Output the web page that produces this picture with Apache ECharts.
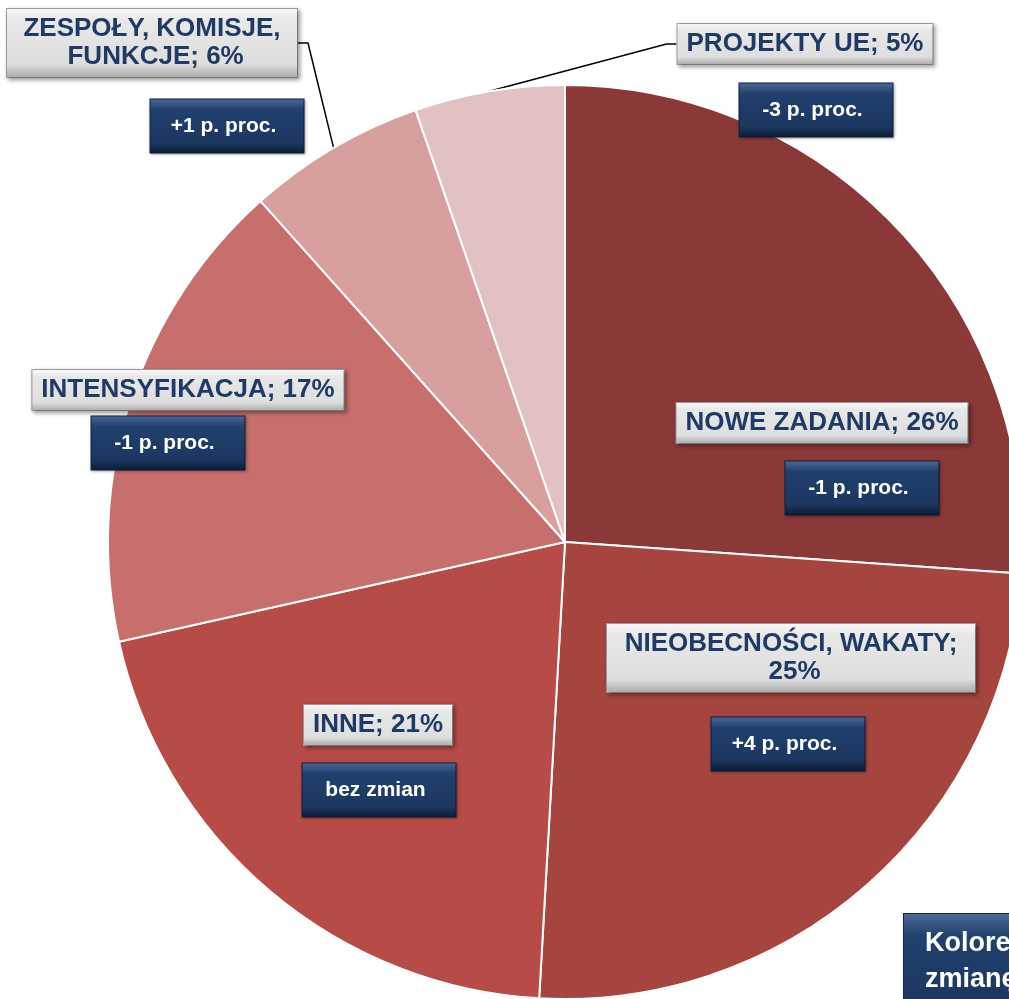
<!DOCTYPE html>
<html>
<head>
<meta charset="utf-8">
<script src="https://cdn.jsdelivr.net/npm/echarts@6/dist/echarts.min.js"></script>
<style>
  html, body { margin: 0; padding: 0; background: #fff; }
  #main { width: 1009px; height: 999px; }
</style>
</head>
<body>
<div id="main"></div>
<script>
// shares, labels show them rounded
const categories = ['NOWE ZADANIA', 'NIEOBECNOŚCI, WAKATY', 'INNE', 'INTENSYFIKACJA', 'ZESPOŁY, KOMISJE, FUNKCJE', 'PROJEKTY UE'];
const shares = [26.1, 24.8, 20.6, 16.9, 6.3, 5.3];
// change vs previous survey, in percentage points
const changes = [-1, 4, 0, -1, 1, -3];

// box centres (px) and other layout bits
const labelPos = [[822, 423], [791, 658], [378, 725], [188, 390], [152, 43], [805, 44]];
const changePos = [[862, 488], [788, 744], [379, 790], [168, 443], [227, 126], [816, 110]];
const wrapWidth = [null, 350, null, null, 272, null];
const leader = [false, false, false, false, true, true];
const sliceColors = ['#8b3838', '#a64440', '#b74b47', '#c76f6d', '#d7a09f', '#e2c1c3'];

const FONT = '"Liberation Sans", Arial, sans-serif';
const NAVY_TEXT = '#1f3a64';

function greyBox() {
  return new echarts.graphic.LinearGradient(0, 0, 0, 1, [
    { offset: 0, color: '#fafafa' },
    { offset: 0.18, color: '#e8e8e8' },
    { offset: 0.8, color: '#dedede' },
    { offset: 1, color: '#a9a9a9' }
  ]);
}
function navyBox() {
  return new echarts.graphic.LinearGradient(0, 0, 0, 1, [
    { offset: 0, color: '#4d6a98' },
    { offset: 0.2, color: '#20406e' },
    { offset: 0.8, color: '#1c3760' },
    { offset: 1, color: '#0b1a34' }
  ]);
}

function changeText(v) {
  if (v === 0) return 'bez zmian';
  return (v > 0 ? '+' : '-') + Math.abs(v) + ' p. proc.';
}

const chart = echarts.init(document.getElementById('main'));

const option = {
  animation: false,
  backgroundColor: '#fff',
  series: [
    {
      type: 'pie',
      center: [565, 542],
      radius: 457,
      startAngle: 90,
      clockwise: true,
      avoidLabelOverlap: false,
      emphasis: { disabled: true },
      itemStyle: { borderColor: '#fff', borderWidth: 2 },
      label: {
        position: 'outside',
        formatter: p => p.name + '; ' + Math.round(p.value) + '%',
        color: NAVY_TEXT,
        fontFamily: FONT,
        fontWeight: 'bold',
        fontSize: 26,
        lineHeight: 28,
        align: 'center',
        backgroundColor: greyBox(),
        borderColor: '#a0a0a0',
        borderWidth: 1,
        padding: [6, 9],
        shadowColor: 'rgba(0,0,0,0.35)',
        shadowBlur: 4,
        shadowOffsetX: 2,
        shadowOffsetY: 2
      },
      labelLine: {
        show: true,
        length: 10,
        length2: 10,
        lineStyle: { color: '#000', width: 1.5 }
      },
      labelLayout: function (p) {
        const c = labelPos[p.dataIndex];
        const out = { x: c[0], y: c[1], align: 'center', verticalAlign: 'middle' };
        if (leader[p.dataIndex] && p.labelLinePoints) {
          const a = p.labelLinePoints[0];
          const half = p.labelRect.width / 2;
          const side = a[0] > c[0] ? 1 : -1;
          const end = [c[0] + side * half, c[1]];
          out.labelLinePoints = [a, [end[0] + side * 10, c[1]], end];
        }
        return out;
      },
      data: categories.map((name, i) => {
        const item = {
          name: name,
          value: shares[i],
          itemStyle: { color: sliceColors[i] },
          labelLine: { show: leader[i] }
        };
        if (wrapWidth[i]) {
          item.label = { width: wrapWidth[i], overflow: 'break' };
        }
        return item;
      })
    },
    {
      type: 'pie',
      center: [565, 542],
      radius: 457,
      startAngle: 90,
      clockwise: true,
      silent: true,
      avoidLabelOverlap: false,
      emphasis: { disabled: true },
      itemStyle: { color: 'rgba(0,0,0,0)', borderWidth: 0 },
      label: {
        position: 'inside',
        formatter: p => changeText(changes[p.dataIndex]),
        color: '#fff',
        fontFamily: FONT,
        fontWeight: 'bold',
        fontSize: 21,
        width: 120,
        height: 33,
        lineHeight: 33,
        align: 'center',
        padding: [10, 20, 10, 13],
        backgroundColor: navyBox(),
        borderColor: '#0f2140',
        borderWidth: 1,
        shadowColor: 'rgba(0,0,0,0.3)',
        shadowBlur: 3,
        shadowOffsetX: 1,
        shadowOffsetY: 1
      },
      labelLine: { show: false },
      labelLayout: p => ({
        x: changePos[p.dataIndex][0],
        y: changePos[p.dataIndex][1],
        align: 'center',
        verticalAlign: 'middle'
      }),
      data: categories.map((name, i) => ({ name: name, value: shares[i] }))
    }
  ],
  graphic: [
    {
      type: 'text',
      left: 903,
      top: 913,
      z: 10,
      style: {
        text: 'Kolorem\nzmianę',
        fill: '#fff',
        font: 'bold 27px ' + FONT,
        lineHeight: 36,
        backgroundColor: navyBox(),
        borderColor: '#0f2140',
        borderWidth: 1,
        padding: [12, 60, 30, 21]
      }
    }
  ]
};

chart.setOption(option);
</script>
</body>
</html>
